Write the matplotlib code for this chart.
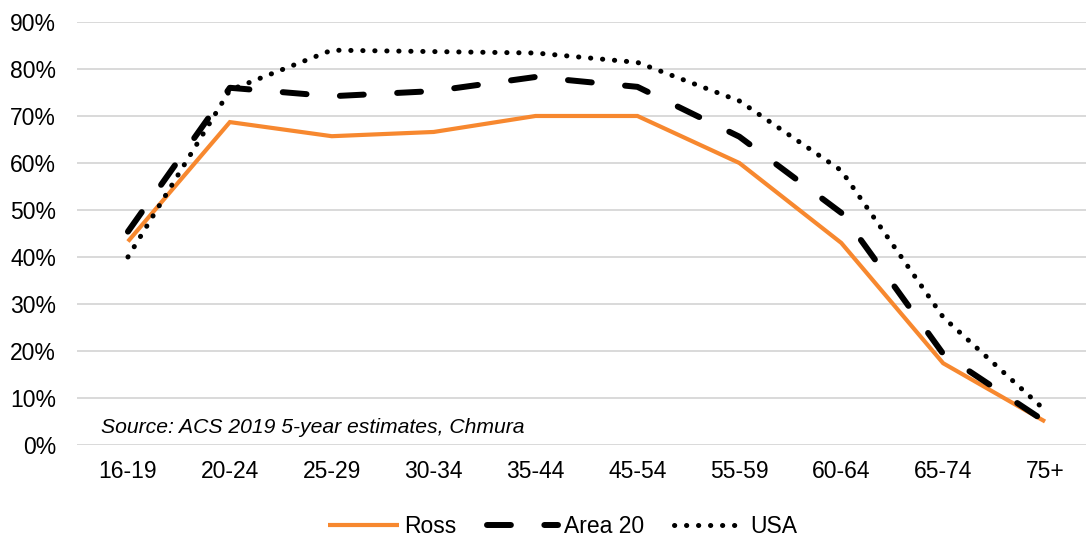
import matplotlib
matplotlib.use("Agg")
import matplotlib.pyplot as plt
from matplotlib.ticker import FuncFormatter, MultipleLocator

plt.rcParams['font.family'] = ['Liberation Sans', 'DejaVu Sans']

age_groups = ['16-19', '20-24', '25-29', '30-34', '35-44', '45-54',
              '55-59', '60-64', '65-74', '75+']
ross = [43.3, 68.7, 65.7, 66.6, 70.0, 70.0, 60.0, 43.0, 17.4, 5.0]
area20 = [45.4, 76.0, 74.2, 75.3, 78.3, 76.2, 65.6, 49.4, 19.4, 5.0]
usa = [40.0, 75.5, 84.0, 83.7, 83.4, 81.4, 73.2, 58.4, 27.2, 7.4]

fig = plt.figure(figsize=(10.86, 5.4), dpi=100)
ax = fig.add_axes([0.0709, 0.1759, 0.9383, 0.7834])

x = range(len(age_groups))
ax.plot(x, ross, color='#F7882F', lw=3.0, solid_capstyle='butt',
        solid_joinstyle='miter', label='Ross')
ax.plot(x, area20, color='black', lw=4.3, dashes=(4.0, 5.6),
        dash_capstyle='round', label='Area 20')
ax.plot(x, usa, color='black', lw=3.6, dashes=(0.05, 2.35),
        dash_capstyle='round', label='USA')

ax.set_xlim(-0.5, 9.5)
ax.set_ylim(0, 90)
ax.yaxis.set_major_locator(MultipleLocator(10))
ax.yaxis.set_major_formatter(FuncFormatter(lambda v, p: f'{v:.0f}%'))
ax.set_xticks(list(x))
ax.set_xticklabels(age_groups)
ax.grid(axis='y', color='#d9d9d9', lw=1.4)
ax.set_axisbelow(True)
for s in ax.spines.values():
    s.set_visible(False)
ax.tick_params(length=0, labelsize=16.5, colors='black')
ax.tick_params(axis='x', pad=11)
ax.tick_params(axis='y', pad=15)

ax.text(0.0236, 0.028, 'Source: ACS 2019 5-year estimates, Chmura',
        transform=ax.transAxes, fontsize=15.2, style='italic')

fig.legend(loc='lower center', bbox_to_anchor=(0.518, -0.035), ncol=3,
           frameon=False, fontsize=16.5, handlelength=3.1, columnspacing=1.3,
           handletextpad=0.26)

fig.savefig('out.png', dpi=100)
